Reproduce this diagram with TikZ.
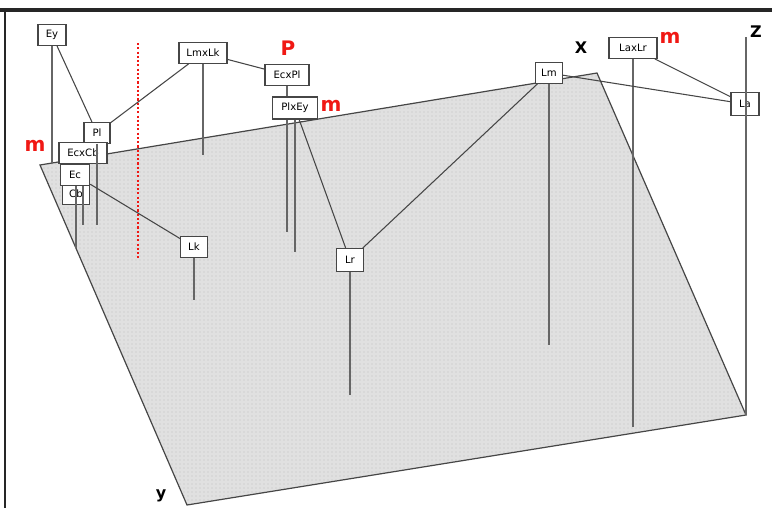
\documentclass[tikz,border=0pt]{standalone}
\definecolor{planegray}{RGB}{224,224,224}
\definecolor{edgegray}{RGB}{70,70,70}
\definecolor{markred}{RGB}{240,24,20}
\usepackage{fontspec}
\setsansfont{DejaVu Sans}
\usepackage{tikz}
\usetikzlibrary{patterns}

\tikzset{
  termbox/.style={draw=edgegray, fill=white, line width=0.85pt, inner sep=0pt,
                  minimum height=15.5pt, font=\fontsize{7.6}{8}\selectfont\sffamily},
  dropline/.style={draw=black!60, line width=1.1pt},
  link/.style={draw=edgegray, line width=0.8pt},
  axislbl/.style={font=\fontsize{12}{12}\selectfont\sffamily\bfseries, inner sep=0pt},
  redmark/.style={text=markred, font=\fontsize{15}{15}\selectfont\sffamily\bfseries, inner sep=0pt}
}

\begin{document}
\begin{tikzpicture}[x=0.75pt, y=-0.75pt]
    \useasboundingbox (0,0) rectangle (772,508);

    % base plane
    \coordinate (pL) at (40,165);
    \coordinate (pT) at (597,73);
    \coordinate (pR) at (746,415);
    \coordinate (pB) at (187,505);
    \fill[planegray] (pL) -- (pT) -- (pR) -- (pB) -- cycle;
    \fill[pattern=dots, pattern color=gray!50] (pL) -- (pT) -- (pR) -- (pB) -- cycle;
    \draw[edgegray, line width=0.9pt] (pL) -- (pT) -- (pR) -- (pB) -- cycle;

    % frame
    \draw[black!85, line width=2.4pt] (0,10) -- (772,10);
    \draw[black!85, line width=1.5pt] (5,10) -- (5,508);

    % red separator
    \coordinate (sepTop) at (138,43);
    \coordinate (sepBot) at (138,258);
    \draw[markred, line width=1.6pt, dash pattern=on 1.6pt off 1.6pt] (sepTop) -- (sepBot);

    \node[termbox, minimum width=20pt] (Cb) at (76,194) {Cb};

    % terms
    \node[termbox, minimum width=21pt] (Ey) at (52,35) {Ey};
    \node[termbox, minimum width=36pt] (LmxLk) at (203,53) {LmxLk};
    \node[termbox, minimum width=33pt] (EcxPl) at (287,75) {EcxPl};
    \node[termbox, minimum width=36pt] (LaxLr) at (633,48) {LaxLr};
    \node[termbox, minimum width=20pt] (Lm) at (549,73) {Lm};
    \node[termbox, minimum width=20pt] (Lk) at (194,247) {Lk};
    \node[termbox, minimum width=20pt, minimum height=17pt] (Lr) at (350,260) {Lr};
    \node[termbox, minimum width=21pt, minimum height=17pt] (La) at (745,104) {La};

    % drop lines to the plane
    \foreach \n/\y in {Ey/163, LmxLk/155, EcxPl/232, Lm/345, LaxLr/427, Lk/300, Lr/395}
      \coordinate (\n foot) at (\n.south |- 0,\y);
    \foreach \n in {Ey, LmxLk, EcxPl, Lm, LaxLr, Lk, Lr}
      \draw[dropline] (\n.south) -- (\n foot);

    \node[termbox, minimum width=34pt, minimum height=16.5pt] (PlxEy) at (295,108) {PlxEy};
    \node[termbox, minimum width=19.5pt] (Pl) at (97,133) {Pl};
    \node[termbox, minimum width=36pt] (EcxCb) at (83,153) {EcxCb};

    \coordinate (PlxEy foot) at (PlxEy.south |- 0,252);
    \coordinate (EcxCb foot) at (EcxCb.south |- 0,225);
    \coordinate (Ec foot) at (Cb.north |- 0,248);
    \draw[dropline] (PlxEy.south) -- (PlxEy foot);
    \draw[dropline] (EcxCb.south) -- (EcxCb foot);
    \draw[dropline] (Cb.north) -- (Ec foot);

    \node[termbox, minimum width=22pt] (Ec) at (75,175) {Ec};

    \coordinate (Pl foot) at (Pl.south |- 0,225);
    \draw[dropline] (Pl.south) -- (Pl foot);

    % links between terms
    \draw[link] (Ey) -- (Pl);
    \draw[link] (LmxLk) -- (Pl);
    \draw[link] (LmxLk) -- (EcxPl);
    \draw[link] (Ec) -- (Lk);
    \draw[link] (PlxEy) -- (Lr);
    \draw[link] (Lm) -- (Lr);
    \draw[link] (Lm) -- (La);
    \draw[link] (LaxLr) -- (La);

    % z axis
    \coordinate (zTip) at (746,37);
    \draw[dropline] (zTip) -- (pR);

    % axis names and marks
    \node[axislbl] (xlbl) at (581,48) {X};
    \node[axislbl] (zlbl) at (756,32) {Z};
    \node[axislbl] (ylbl) at (161,496) {y};
    \node[redmark] (mLeft) at (35,146) {m};
    \node[redmark] (mMid) at (331,106) {m};
    \node[redmark] (mRight) at (670,38) {m};
    \node[redmark] (pMark) at (288,48) {P};
\end{tikzpicture}
\end{document}
